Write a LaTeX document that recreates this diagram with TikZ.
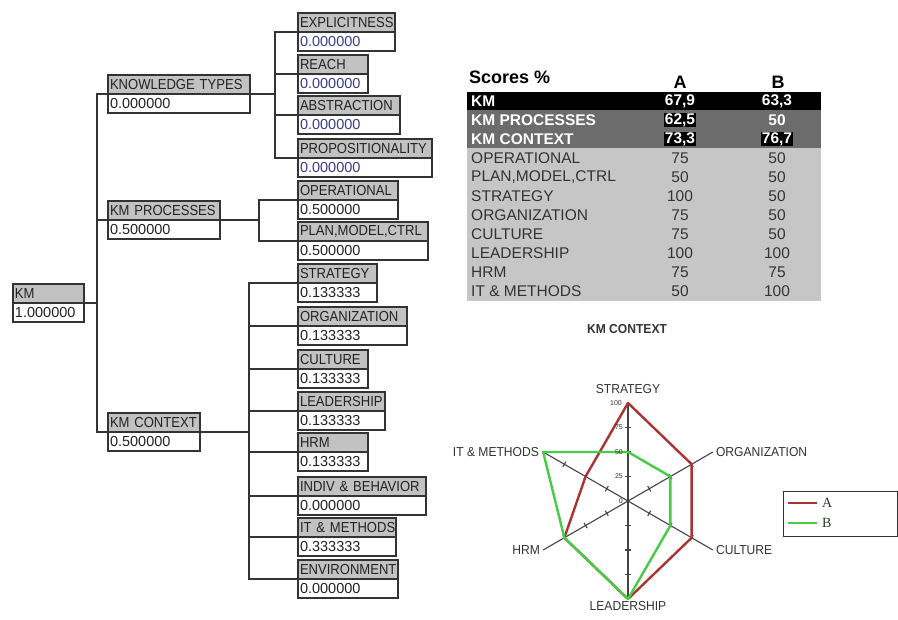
\documentclass[tikz,border=0pt]{standalone}
\usepackage{fontspec}
\setmainfont{Liberation Sans}
\newfontfamily\narrowf[FakeStretch=0.9]{Liberation Sans}
\newfontfamily\chartf[FakeStretch=0.93]{Liberation Sans}
\newfontfamily\serf{Liberation Serif}
\usetikzlibrary{calc}
\definecolor{boxline}{HTML}{333333}
\definecolor{hdrfill}{HTML}{C2C2C2}
\definecolor{valblue}{HTML}{3A3A8C}
\definecolor{valdark}{HTML}{222222}
\definecolor{tdark}{HTML}{6C6C6C}
\definecolor{tlight}{HTML}{C6C6C6}
\definecolor{ttext}{HTML}{333333}
\definecolor{serA}{HTML}{A83434}
\definecolor{serB}{HTML}{46CC46}
\definecolor{axisc}{HTML}{444444}
\tikzset{
  hdr/.style={draw=boxline, line width=1.4pt, fill=hdrfill, minimum height=19pt,
    inner xsep=2pt, inner ysep=0pt, outer sep=0pt, align=left, text=valdark,
    font=\narrowf\fontsize{14.5}{15}\selectfont},
  valbox/.style={draw=boxline, line width=1.4pt, fill=white, minimum height=19pt,
    inner xsep=2pt, inner ysep=0pt, outer sep=0pt, align=left,
    font=\fontsize{14.5}{15}\selectfont},
  conn/.style={draw=boxline, line width=1.4pt},
  tlab/.style={anchor=west, inner sep=0pt, font=\fontsize{15.5}{16}\selectfont, text=ttext},
  tnum/.style={anchor=center, inner sep=0pt, font=\fontsize{15.5}{16}\selectfont, text=ttext},
  tlabw/.style={anchor=west, inner sep=0pt, font=\bfseries\fontsize{15.5}{16}\selectfont, text=white},
  tnumw/.style={anchor=center, inner sep=0pt, font=\bfseries\fontsize{15.5}{16}\selectfont, text=white},
  axisl/.style={draw=axisc, line width=1.1pt},
  serAst/.style={draw=serA, line width=2.4pt, line join=round},
  serBst/.style={draw=serB, line width=2.4pt, line join=round},
  clab/.style={inner sep=1pt, font=\chartf\fontsize{13}{14}\selectfont, text=ttext},
  ticklab/.style={inner sep=0pt, anchor=east, font=\fontsize{7}{8}\selectfont, text=ttext},
}
\newcommand\tbox[7]{%
  \pgfmathsetmacro\mytbw{#4-4}%
  \node[hdr, text width=\mytbw pt, anchor=north west] (#1) at (#2,#3) {\mbox{#5}};
  \node[valbox, text width=\mytbw pt, anchor=north west, text=#7] (#1v) at (#1.south west) {\mbox{#6}};
}
\begin{document}
\begin{tikzpicture}[x=1pt,y=-1pt]
\useasboundingbox (0,0) rectangle (898,620);
\fill[white] (0,0) rectangle (898,620);

% ---------------- tree ----------------
\tbox{km}{13}{284}{71}{KM}{1.000000}{valdark}
\tbox{kt}{108}{75}{142}{KNOWLEDGE TYPES}{0.000000}{valdark}
\tbox{kp}{108}{201}{112}{KM PROCESSES}{0.500000}{valdark}
\tbox{kc}{108}{413}{92}{KM CONTEXT}{0.500000}{valdark}

\tbox{exp}{298}{13}{97}{EXPLICITNESS}{0.000000}{valblue}
\tbox{reach}{298}{55}{70}{REACH}{0.000000}{valblue}
\tbox{abst}{298}{96}{102}{ABSTRACTION}{0.000000}{valblue}
\tbox{prop}{298}{139}{134}{PROPOSITIONALITY}{0.000000}{valblue}

\tbox{oper}{298}{181}{100}{OPERATIONAL}{0.500000}{valdark}
\tbox{plan}{298}{222}{130}{PLAN,MODEL,CTRL}{0.500000}{valdark}

\tbox{strat}{298}{264}{79}{STRATEGY}{0.133333}{valdark}
\tbox{org}{298}{307}{109}{ORGANIZATION}{0.133333}{valdark}
\tbox{cult}{298}{350}{70}{CULTURE}{0.133333}{valdark}
\tbox{lead}{298}{392}{87}{LEADERSHIP}{0.133333}{valdark}
\tbox{hrm}{298}{433}{70}{HRM}{0.133333}{valdark}
\tbox{indiv}{298}{477}{128}{INDIV \& BEHAVIOR}{0.000000}{valdark}
\tbox{itm}{298}{518}{98}{IT \& METHODS}{0.333333}{valdark}
\tbox{env}{298}{560}{100}{ENVIRONMENT}{0.000000}{valdark}

\coordinate (j0) at (97,0);
\coordinate (j1) at (275,0);
\coordinate (j2) at (259,0);
\coordinate (j3) at (249,0);

% root connectors
\draw[conn] (km.south east) -- (km.south east -| j0);
\draw[conn] (kt.south west) -- (kt.south west -| j0) -- (kc.south west -| j0) -- (kc.south west);
\draw[conn] (kp.south west) -- (kp.south west -| j0);

% knowledge types
\draw[conn] (kt.south east) -- (kt.south east -| j1);
\draw[conn] (exp.south west) -- (exp.south west -| j1) -- (prop.south west -| j1) -- (prop.south west);
\draw[conn] (reach.south west) -- (reach.south west -| j1);
\draw[conn] (abst.south west) -- (abst.south west -| j1);

% km processes
\draw[conn] (kp.south east) -- (kp.south east -| j2);
\draw[conn] (oper.south west) -- (oper.south west -| j2) -- (plan.south west -| j2) -- (plan.south west);

% km context
\draw[conn] (kc.south east) -- (kc.south east -| j3);
\draw[conn] (strat.south west) -- (strat.south west -| j3) -- (env.south west -| j3) -- (env.south west);
\foreach \n in {org,cult,lead,hrm,indiv,itm}
  \draw[conn] (\n.south west) -- (\n.south west -| j3);

% ---------------- table ----------------
\node[anchor=west, inner sep=0pt, font=\bfseries\fontsize{18}{20}\selectfont, text=black] (sc) at (469,77) {Scores \%};
\node[anchor=center, inner sep=0pt, font=\bfseries\fontsize{18}{20}\selectfont, text=black] (ca) at (680,82) {A};
\node[anchor=center, inner sep=0pt, font=\bfseries\fontsize{18}{20}\selectfont, text=black] (cb) at (778,82) {B};

\fill[black] (467,92) rectangle (821,110.5);
\fill[tdark] (467,110.5) rectangle (821,148);
\fill[tlight] (467,148) rectangle (821,301);

\node[tlabw] (r0) at (471,101) {KM};
\node[tnumw] (r0a) at (680,101) {67,9};
\node[tnumw] (r0b) at (777,101) {63,3};
\node[tlabw] (r1) at (471,120) {KM PROCESSES};
\node[tnumw, fill=black, inner xsep=1pt] (r1a) at (680,120) {62,5};
\node[tnumw] (r1b) at (777,120) {50};
\node[tlabw] (r2) at (471,139) {KM CONTEXT};
\node[tnumw, fill=black, inner xsep=1pt] (r2a) at (680,139) {73,3};
\node[tnumw, fill=black, inner xsep=1pt] (r2b) at (777,139) {76,7};

\node[tlab] (r3) at (471,158) {OPERATIONAL};      \node[tnum] (r3a) at (680,158) {75};  \node[tnum] (r3b) at (777,158) {50};
\node[tlab] (r4) at (471,177.5) {PLAN,MODEL,CTRL}; \node[tnum] (r4a) at (680,177.5) {50};  \node[tnum] (r4b) at (777,177.5) {50};
\node[tlab] (r5) at (471,196.5) {STRATEGY};       \node[tnum] (r5a) at (680,196.5) {100}; \node[tnum] (r5b) at (777,196.5) {50};
\node[tlab] (r6) at (471,215.5) {ORGANIZATION};   \node[tnum] (r6a) at (680,215.5) {75};  \node[tnum] (r6b) at (777,215.5) {50};
\node[tlab] (r7) at (471,234.5) {CULTURE};        \node[tnum] (r7a) at (680,234.5) {75};  \node[tnum] (r7b) at (777,234.5) {50};
\node[tlab] (r8) at (471,253.5) {LEADERSHIP};     \node[tnum] (r8a) at (680,253.5) {100}; \node[tnum] (r8b) at (777,253.5) {100};
\node[tlab] (r9) at (471,272.5) {HRM};            \node[tnum] (r9a) at (680,272.5) {75};  \node[tnum] (r9b) at (777,272.5) {75};
\node[tlab] (r10) at (471,291.5) {IT \& METHODS}; \node[tnum] (r10a) at (680,291.5) {50}; \node[tnum] (r10b) at (777,291.5) {100};

% ---------------- radar ----------------
\node[inner sep=0pt, font=\bfseries\chartf\fontsize{13}{14}\selectfont, text=ttext] (ctitle) at (627,329) {KM CONTEXT};

\begin{scope}[shift={(628,501)}]
  \foreach \a in {-90,-30,30,90,150,210} {
    \draw[axisl] (0,0) -- (\a:98);
    \foreach \t in {24.5,49,73.5}
      \draw[axisl] ($(\a:\t)+(\a+90:3)$) -- ($(\a:\t)+(\a-90:3)$);
  }
  \draw[serAst] (-90:98) -- (-30:73.5) -- (30:73.5) -- (90:98) -- (150:73.5) -- (210:49) -- cycle;
  \draw[serBst] (-90:49) -- (-30:49) -- (30:49) -- (90:98) -- (150:73.5) -- (210:98) -- cycle;
  \node[ticklab] (t100) at (-6,-98) {100};
  \node[ticklab] (t75) at (-5,-73.5) {75};
  \node[ticklab] (t50) at (-5,-49) {50};
  \node[ticklab] (t25) at (-5,-24.5) {25};
  \node[ticklab] (t0) at (-5,0) {0};
  \node[clab, anchor=south] (lstrat) at (0,-106) {STRATEGY};
  \node[clab, anchor=west] (lorg) at ($(-30:98)+(2,0)$) {ORGANIZATION};
  \node[clab, anchor=west] (lcult) at ($(30:98)+(2,0)$) {CULTURE};
  \node[clab, anchor=north] (llead) at (0,99) {LEADERSHIP};
  \node[clab, anchor=east] (lhrm) at ($(150:98)+(-2,0)$) {HRM};
  \node[clab, anchor=east] (litm) at ($(210:98)+(-3,0)$) {IT \& METHODS};
\end{scope}

% legend
\draw[draw=boxline, line width=1pt] (783,492) rectangle (897,537);
\coordinate (la0) at (788,503);
\coordinate (la1) at (817,503);
\coordinate (lb0) at (788,523);
\coordinate (lb1) at (817,523);
\draw[serAst] (la0) -- (la1);
\draw[serBst] (lb0) -- (lb1);
\node[anchor=west, inner sep=0pt, font=\serf\fontsize{14}{15}\selectfont, text=ttext] (lga) at (822,503) {A};
\node[anchor=west, inner sep=0pt, font=\serf\fontsize{14}{15}\selectfont, text=ttext] (lgb) at (822,523) {B};
\end{tikzpicture}
\end{document}
